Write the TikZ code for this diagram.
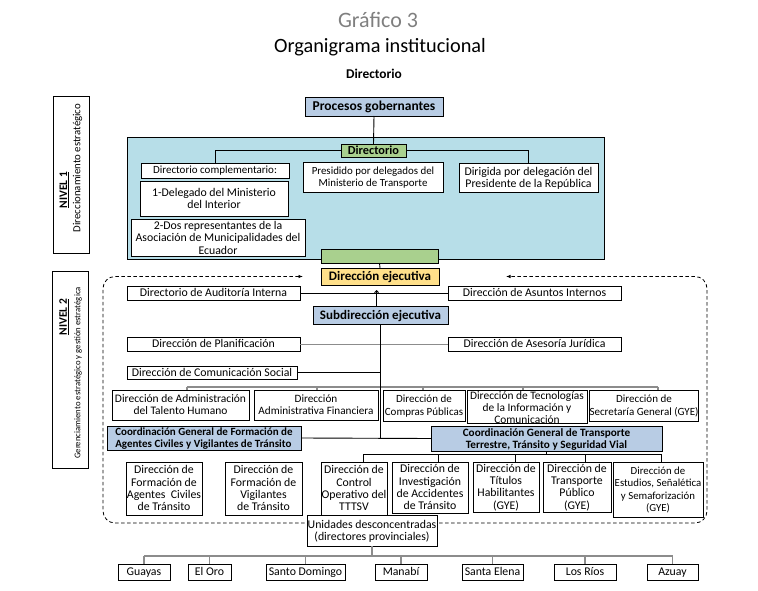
\documentclass[tikz,border=0pt]{standalone}
\usepackage{fontspec}
\setmainfont{Carlito}
\usetikzlibrary{arrows.meta,calc}
\definecolor{aqua}{HTML}{B7DEE8}
\definecolor{lblue}{HTML}{B8CCE4}
\definecolor{lgreen}{HTML}{A9D08E}
\definecolor{lyel}{HTML}{FFE08A}
\definecolor{busgray}{HTML}{8C8C8C}
\definecolor{titgray}{HTML}{7F7F7F}
\newcommand\bxs{\rule[-0.21em]{0pt}{1.05em}}
\newcommand\BX[7][]{\node[bx,#1,minimum width={#5-#3},minimum height={#6-#4}] (#2) at ({(#3+#5)/2},{(#4+#6)/2}) {\bxs#7\bxs};}
\newcommand\fs[2]{\fontsize{#1}{#2}\selectfont}
\tikzset{
  bx/.style={draw,line width=0.9pt,fill=white,inner sep=0pt,outer sep=0pt,align=center,
    font=\fs{11.8}{12.4}},
  hd/.style={font=\bfseries\fs{13}{14}},
  cbx/.style={font=\bfseries\fs{11}{12},fill=lblue},
  ln/.style={line width=0.9pt},
  gbus/.style={line width=1.1pt,draw=busgray},
  dashline/.style={line width=0.8pt,dash pattern=on 3.5pt off 2.5pt},
  lvl/.style={font=\fs{10.8}{12.5},rotate=90,inner sep=0pt}
}
\begin{document}
\begin{tikzpicture}[x=1pt,y=-1pt]
\useasboundingbox (0,0) rectangle (758,591);
% titles
\node[text=titgray,font=\fs{22}{24}] (t1) at (378,20) {Gráfico 3};
\node[font=\fs{20.3}{23}] (t2) at (380,47) {Organigrama institucional};
\node[font=\bfseries\fs{13.4}{15}] (t3) at (374,74) {Directorio};
% level boxes
\BX{nv1}{53}{96}{89}{253}{}
\BX{nv2}{52}{271}{88}{468}{}
\node[lvl,font=\bfseries\fs{11.5}{13}] (nv1a) at (64.5,190) {\underline{NIVEL 1}};
\node[lvl] (nv1b) at (77.5,168) {Direccionamiento estratégico};
\node[lvl,font=\bfseries\fs{11.5}{13}] (nv2a) at (64,317) {\underline{NIVEL 2}};
\node[lvl,font=\fs{8.7}{10}] (nv2b) at (78,373) {Gerenciamiento estratégico y gestión estratégica};
% nivel 1 background
\BX[fill=aqua]{bg}{127}{137}{604}{259}{}
% dashed frame
\BX[cbx,fill=lyel,hd]{de}{321}{268}{439}{285}{Dirección ejecutiva}
\coordinate (dl) at ($(de.west)+(-18,0)$);
\coordinate (dr) at ($(de.east)+(67,0)$);
\draw[dashline,{Latex[length=4.5pt,width=3.5pt]}-{Latex[length=4.5pt,width=3.5pt]},rounded corners=12pt]
  (dl) -- (103,276.5) -- (103,523) -- (707,523) -- (707,276.5) -- (dr);
% top
\BX[cbx,font=\bfseries\fs{13.5}{15}]{pg}{305}{97}{443}{116}{Procesos gobernantes}
\BX[font=\bfseries\fs{12.3}{13},fill=lgreen]{dir}{341}{144}{406}{157}{Directorio}
\BX[font=\fs{11}{12.4}]{dc}{141}{163}{289}{178}{Directorio complementario:}
\BX{d1}{140}{181}{288}{216}{1-Delegado del Ministerio\\del Interior}
\BX[font=\fs{11.8}{11.8}]{d2}{131}{220}{305}{256}{2-Dos representantes de la\\Asociación de Municipalidades del\\Ecuador}
\BX[font=\fs{10.9}{12.4}]{dp}{303}{162}{443}{192}{Presidido por delegados del\\Ministerio de Transporte}
\BX{dg}{459}{163}{598}{192}{Dirigida por delegación del\\Presidente de la República}
\BX[fill=lgreen]{gb}{321}{249}{438}{263}{}
\draw[ln] (pg.south) -- (dir.north);
\draw[ln] (dir.west) -| (dc.north);
\draw[ln] (dir.east) -| (dg.north);
\draw[ln] (gb.south) -- (de.north);
% level 2 staff
\BX{aud}{127}{286}{300}{300}{Directorio de Auditoría Interna}
\BX{asu}{448}{286}{621}{300}{Dirección de Asuntos Internos}
\BX[cbx,hd]{sub}{313}{306}{448}{324}{Subdirección ejecutiva}
\BX{pla}{127}{337}{300}{351}{Dirección de Planificación}
\BX{asj}{448}{337}{621}{351}{Dirección de Asesoría Jurídica}
\BX{com}{127}{366}{297}{379}{Dirección de Comunicación Social}
\draw[ln] (aud.east) -- (asu.west);
\coordinate (sa) at ($(sub.north)+(-4,0)$);
\draw[ln,-{Straight Barb[length=2pt,width=4pt]}] (sa) -- ($(sa |- aud.east)+(0,-3)$);
\draw[gbus,line width=0.9pt] (pla.east) -- (asj.west);
\draw[ln] (com.east) -- (com.east -| sub.south);
% five directions
\BX[font=\fs{11.5}{12.4}]{th}{112}{390}{249}{420}{Dirección de Administración\\del Talento Humano}
\BX[font=\fs{11.2}{12.4}]{af}{254}{390}{378}{420}{Dirección\\Administrativa Financiera}
\BX[font=\fs{11}{12.4}]{cp}{383}{390}{465}{421}{Dirección de\\Compras Públicas}
\BX{tec}{467}{390}{587}{423}{}
\node[inner sep=0pt,align=center,anchor=north,font=\fs{11.4}{12}] (tect) at ($(tec.north)+(0,1)$) {Dirección de Tecnologías\\de la Información y\\Comunicación};
\BX[font=\fs{11}{12.4}]{sec}{590}{390}{698}{421}{Dirección de\\Secretaría General (GYE)}
\coordinate (b1) at (187,387);
\coordinate (b2) at (317,387);
\coordinate (b3) at (423,387);
\coordinate (b4) at (523,387);
\coordinate (b5) at (658,387);
\draw[gbus] (b1) -- (b5);
\draw[gbus] (b1) -- (b1 |- th.north);
\draw[gbus] (b2) -- (b2 |- af.north);
\draw[gbus] (b3) -- (b3 |- cp.north);
\draw[gbus] (b4) -- (b4 |- tec.north);
\draw[gbus] (b5) -- (b5 |- sec.north);
% coordinations
\BX[cbx,align=left]{cfa}{107}{426}{301}{450}{Coordinación General de Formación de\\Agentes Civiles y Vigilantes de Tránsito}
\BX[cbx,font=\bfseries\fs{11.2}{12}]{cgt}{431}{426}{662}{451}{Coordinación General de Transporte\\Terrestre, Tránsito y Seguridad Vial}
\draw[ln] (cfa.east) -- (cgt.west);
\draw[ln] (sub.south) -- (sub.south |- cfa.east);
% children
\BX{ac}{126}{462}{202}{515}{Dirección de\\Formación de\\Agentes~ Civiles\\de Tránsito}
\BX{vg}{225}{462}{302}{515}{Dirección de\\Formación de\\Vigilantes\\de Tránsito}
\BX{co}{321}{462}{387}{515}{Dirección de\\Control\\Operativo del\\TTTSV}
\BX{ia}{392}{462}{468}{513}{Dirección de\\Investigación\\de Accidentes\\de Tránsito}
\BX{th2}{473}{462}{539}{512}{Dirección de\\Títulos\\Habilitantes\\(GYE)}
\BX{tp}{543}{462}{611}{512}{Dirección de\\Transporte\\Público\\(GYE)}
\BX[font=\fs{10.8}{12.4}]{es}{613}{462}{703}{517}{Dirección de\\Estudios, Señalética\\y Semaforización\\(GYE)}
\coordinate (c1) at (363,454);
\coordinate (c2) at (438,454);
\coordinate (c3) at (515,454);
\coordinate (c4) at (585,454);
\coordinate (c5) at (661,454);
\draw[ln] (c1) -- (c5);
\draw[ln] (cgt.south) -- (cgt.south |- c1);
\draw[ln] (c1) -- (c1 |- co.north);
\draw[ln] (c2) -- (c2 |- ia.north);
\draw[ln] (c3) -- (c3 |- th2.north);
\draw[ln] (c4) -- (c4 |- tp.north);
\draw[ln] (c5) -- (c5 |- es.north);
% unidades
\BX{uni}{307}{515}{437}{546}{Unidades desconcentradas\\(directores provinciales)}
\BX{gua}{118}{564}{170}{580}{Guayas}
\BX{oro}{188}{564}{231}{580}{El Oro}
\BX{sto}{266}{564}{345}{580}{Santo Domingo}
\BX{man}{375}{564}{427}{580}{Manabí}
\BX{sel}{462}{564}{523}{580}{Santa Elena}
\BX{lr}{554}{564}{616}{580}{Los Ríos}
\BX{azu}{647}{564}{698}{580}{Azuay}
\coordinate (pb) at (0,556);
\draw[gbus] (gua.north |- pb) -- (azu.north |- pb);
\draw[gbus] (uni.south) -- (uni.south |- pb);
\foreach \n in {gua,oro,sto,man,sel,lr,azu}{\draw[gbus] (\n.north |- pb) -- (\n.north);}
\end{tikzpicture}
\end{document}
